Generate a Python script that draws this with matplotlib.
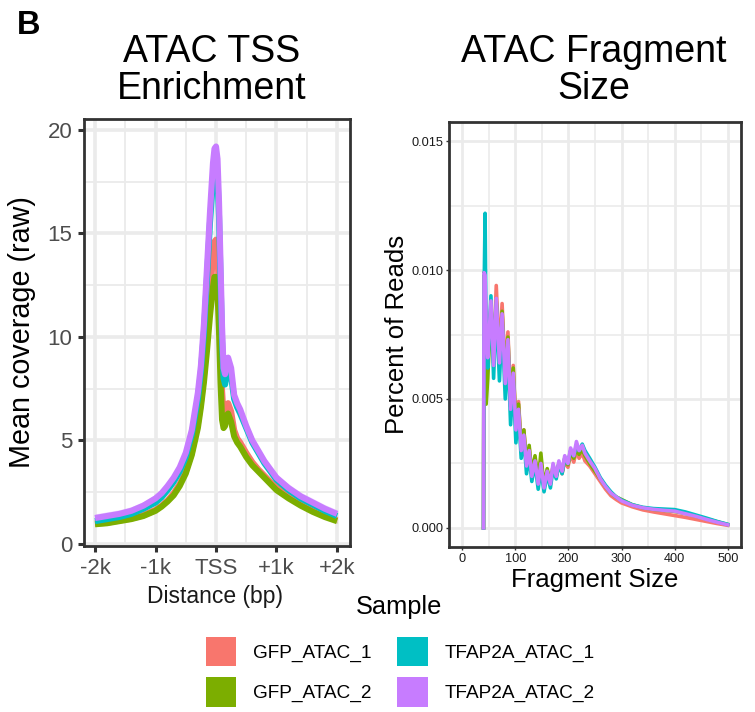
import numpy as np
import matplotlib
matplotlib.use("Agg")
import matplotlib.pyplot as plt
from matplotlib.patches import Patch
from matplotlib.ticker import MultipleLocator, FixedLocator

plt.rcParams['font.family'] = ['Liberation Sans', 'DejaVu Sans']

W, H = 755, 712

samples = ["GFP_ATAC_1", "GFP_ATAC_2", "TFAP2A_ATAC_1", "TFAP2A_ATAC_2"]
colors = ["#F8766D", "#7CAE00", "#00BFC4", "#C77CFF"]

# TSS enrichment profiles (mean raw coverage vs distance to TSS, bp)
tss_pos = [-2000, -1800, -1600, -1400, -1200, -1000, -900, -800, -700, -600,
           -500, -400, -300, -250, -200, -150, -100, -50, -25, 0, 25, 50, 75,
           100, 125, 150, 175, 200, 250, 300, 350, 400, 500, 600, 700, 800,
           900, 1000, 1200, 1400, 1600, 1800, 2000]
tss_gfp_1 = [1.0, 1.05, 1.15, 1.25, 1.4, 1.65, 1.85, 2.1, 2.45, 2.9, 3.5, 4.4,
             5.8, 6.8, 8.1, 9.9, 12.0, 13.9, 14.6, 14.7, 14.0, 12.2, 9.5, 7.4,
             6.2, 6.0, 6.6, 6.8, 6.4, 5.5, 5.1, 4.9, 4.4, 3.95, 3.6, 3.3, 3.0,
             2.75, 2.3, 1.95, 1.65, 1.4, 1.15]
tss_gfp_2 = [0.95, 1.0, 1.1, 1.2, 1.35, 1.6, 1.8, 2.05, 2.35, 2.8, 3.4, 4.3,
             5.6, 6.6, 7.8, 9.3, 11.0, 12.4, 12.9, 12.9, 12.2, 10.3, 7.8, 6.0,
             5.6, 5.7, 6.2, 6.3, 5.9, 5.2, 4.9, 4.7, 4.2, 3.8, 3.5, 3.2, 2.9,
             2.6, 2.2, 1.85, 1.55, 1.3, 1.1]
tss_tfap2a_1 = [1.1, 1.2, 1.3, 1.45, 1.7, 2.0, 2.25, 2.6, 3.0, 3.5, 4.2, 5.3,
                7.0, 8.3, 10.2, 12.8, 15.5, 17.6, 18.2, 18.3, 17.7, 15.8, 12.8,
                9.8, 8.0, 7.7, 8.2, 8.5, 8.1, 7.0, 6.6, 6.3, 5.6, 4.9, 4.4, 3.9,
                3.5, 3.1, 2.6, 2.2, 1.9, 1.6, 1.35]
tss_tfap2a_2 = [1.25, 1.35, 1.45, 1.6, 1.85, 2.2, 2.45, 2.8, 3.2, 3.7, 4.4, 5.5,
                7.3, 8.6, 10.6, 13.3, 16.0, 18.4, 19.1, 19.2, 18.6, 16.5, 13.5,
                10.5, 8.5, 8.2, 8.7, 9.0, 8.5, 7.2, 6.8, 6.5, 5.7, 5.0, 4.5, 4.0,
                3.6, 3.2, 2.7, 2.3, 2.0, 1.7, 1.45]
tss_spread = [0.15, 0.1, 0.12, 0.2]   # half-width of the confidence band

tss_ticks = [-2000, -1000, 0, 1000, 2000]
tss_ticklabels = ["-2k", "-1k", "TSS", "+1k", "+2k"]

# Fragment size distributions (fraction of reads, given in units of 1e-3)
frag_pos = [40, 41, 43, 44, 45, 48, 54, 59, 64, 70, 75, 81, 86, 91, 96, 101,
            106, 111, 116, 121, 126, 131, 137, 143, 148, 154, 160, 166, 171,
            177, 182, 188, 193, 199, 204, 210, 215, 220, 226, 231, 240, 250,
            260, 270, 280, 290, 300, 320, 340, 360, 380, 400, 420, 440, 460,
            480, 500]
frag_gfp_1 = [0, 9.5, 9.2, 8.5, 7.3, 6.8, 8.6, 6.6, 9.4, 6.6, 8.7, 5.9, 7.6,
              4.8, 6.3, 4.0, 4.9, 3.1, 3.8, 2.5, 3.1, 2.1, 2.7, 1.8, 2.6, 1.6,
              2.2, 1.75, 2.4, 2.0, 2.5, 2.1, 2.6, 2.35, 2.85, 2.55, 3.0, 2.7,
              2.9, 2.6, 2.4, 2.1, 1.8, 1.5, 1.25, 1.1, 0.97, 0.82, 0.7, 0.62,
              0.55, 0.48, 0.41, 0.33, 0.25, 0.17, 0.1]
frag_gfp_2 = [0, 9.9, 5.5, 5.0, 4.8, 5.8, 8.5, 6.4, 8.8, 6.5, 8.4, 5.8, 7.4,
              4.7, 6.2, 3.9, 4.8, 3.1, 3.8, 2.5, 3.2, 2.1, 2.8, 1.8, 2.9, 1.6,
              2.3, 1.7, 2.4, 2.0, 2.5, 2.15, 2.7, 2.45, 2.95, 2.7, 3.1, 2.85,
              3.05, 2.8, 2.5, 2.2, 1.9, 1.6, 1.35, 1.2, 1.1, 0.9, 0.78, 0.72,
              0.68, 0.64, 0.56, 0.46, 0.35, 0.24, 0.13]
frag_tfap2a_1 = [0, 9.0, 12.2, 9.5, 7.0, 6.2, 9.0, 5.8, 8.7, 5.7, 8.0, 5.0, 7.0,
                 4.0, 5.7, 3.3, 4.4, 2.7, 3.5, 2.1, 2.8, 1.8, 2.5, 1.5, 2.3,
                 1.4, 2.1, 1.55, 2.3, 1.9, 2.5, 2.1, 2.7, 2.5, 3.0, 2.8, 3.2,
                 3.0, 3.25, 3.0, 2.7, 2.35, 1.95, 1.65, 1.4, 1.2, 1.08, 0.9,
                 0.8, 0.75, 0.73, 0.71, 0.62, 0.5, 0.38, 0.25, 0.14]
frag_tfap2a_2 = [0, 9.9, 9.8, 9.0, 7.5, 6.6, 8.8, 6.3, 8.9, 6.4, 8.3, 5.6, 7.3,
                 4.6, 6.0, 3.8, 4.6, 3.0, 3.6, 2.4, 3.0, 2.0, 2.6, 1.7, 2.5,
                 1.55, 2.2, 1.7, 2.5, 2.0, 2.6, 2.2, 2.8, 2.5, 3.1, 2.8, 3.35,
                 3.0, 3.2, 2.9, 2.6, 2.3, 1.9, 1.6, 1.35, 1.2, 1.05, 0.88, 0.78,
                 0.72, 0.68, 0.65, 0.55, 0.45, 0.33, 0.22, 0.12]

frag_ticks = [0, 100, 200, 300, 400, 500]
frag_yticks = [0.0, 0.005, 0.010, 0.015]
frag_yticklabels = ["0.000", "0.005", "0.010", "0.015"]


def fx(px):
    return px / W


def fy(py):
    return 1 - py / H


def box(l, t, r, b):
    return [fx(l), fy(b), (r - l) / W, (b - t) / H]


def style_panel(ax, major_lw, minor_lw, border_lw):
    ax.set_facecolor("white")
    ax.grid(which="major", color="#EBEBEB", linewidth=major_lw, zorder=0)
    ax.grid(which="minor", color="#EBEBEB", linewidth=minor_lw, zorder=0)
    ax.set_axisbelow(True)
    for s in ax.spines.values():
        s.set_color("#333333")
        s.set_linewidth(border_lw)
        s.set_zorder(10)


fig = plt.figure(figsize=(W / 100, H / 100), dpi=100)

# ---- Left panel: TSS enrichment ----
ax1 = fig.add_axes(box(84, 119, 350, 546))
style_panel(ax1, 2.6, 1.3, 2.0)
tss_series = [tss_gfp_1, tss_gfp_2, tss_tfap2a_1, tss_tfap2a_2]
x = np.array(tss_pos)
for vals, c, sp in zip(tss_series, colors, tss_spread):
    v = np.array(vals)
    ax1.fill_between(x, v - sp, v + sp, color=c, alpha=0.3, linewidth=0, zorder=2)
for vals, c in zip(tss_series, colors):
    ax1.plot(x, vals, color=c, linewidth=4.4, solid_joinstyle="round",
             solid_capstyle="butt", zorder=3)
ax1.set_xlim(-2182, 2215)
ax1.set_ylim(-0.1, 20.53)
ax1.xaxis.set_major_locator(FixedLocator(tss_ticks))
ax1.set_xticklabels(tss_ticklabels)
ax1.xaxis.set_minor_locator(FixedLocator([-1500, -500, 500, 1500]))
ax1.yaxis.set_major_locator(MultipleLocator(5))
ax1.yaxis.set_minor_locator(MultipleLocator(2.5))
ax1.tick_params(which="major", length=4.5, width=2.2, color="#333333",
                labelsize=16, labelcolor="#4D4D4D", pad=4)
ax1.tick_params(which="minor", length=0)

# ---- Right panel: fragment size ----
ax2 = fig.add_axes(box(449, 122, 741, 547))
style_panel(ax2, 2.0, 1.2, 2.0)
frag_series = [frag_gfp_1, frag_gfp_2, frag_tfap2a_1, frag_tfap2a_2]
for vals, c in zip(frag_series, colors):
    ax2.plot(frag_pos, np.array(vals) / 1000.0, color=c, linewidth=2.6,
             solid_joinstyle="round", zorder=3)
ax2.set_xlim(-25, 525)
ax2.set_ylim(-0.00074, 0.01574)
ax2.xaxis.set_major_locator(FixedLocator(frag_ticks))
ax2.xaxis.set_minor_locator(MultipleLocator(50))
ax2.yaxis.set_major_locator(FixedLocator(frag_yticks))
ax2.set_yticklabels(frag_yticklabels)
ax2.yaxis.set_minor_locator(MultipleLocator(0.0025))
ax2.tick_params(which="major", length=2.2, width=1.0, color="#333333",
                labelsize=9.2, labelcolor="#1A1A1A", pad=2)
ax2.tick_params(which="minor", length=0)

# ---- Titles and axis titles ----
fig.text(fx(17), fy(34), "B", fontsize=23.5, fontweight="bold", ha="left",
         va="baseline")
for cx, lines in [(212, ["ATAC TSS", "Enrichment"]),
                  (594, ["ATAC Fragment", "Size"])]:
    for line, base in zip(lines, [62, 99]):
        fig.text(fx(cx), fy(base), line, fontsize=27, ha="center",
                 va="baseline")
fig.text(fx(22), fy(332), "Mean coverage (raw)", fontsize=20.7, rotation=90,
         ha="center", va="center")
fig.text(fx(215), fy(596), "Distance (bp)", fontsize=16.5, ha="center",
         va="center", color="#1A1A1A")
fig.text(fx(397), fy(334), "Percent of Reads", fontsize=18.5, rotation=90,
         ha="center", va="center")
fig.text(fx(595), fy(580), "Fragment Size", fontsize=18.5, ha="center",
         va="center")

# ---- Legend ----
fig.text(fx(399), fy(607), "Sample", fontsize=18.3, ha="center", va="center")
handles = [Patch(facecolor=c, edgecolor="none") for c in colors]
fig.legend(handles, samples, loc="upper left",
           bbox_to_anchor=(fx(206), fy(637)), ncol=2, frameon=False,
           fontsize=13.7, handlelength=1.6, handleheight=2.0,
           handletextpad=0.88, columnspacing=1.35, labelspacing=0.58,
           borderpad=0, borderaxespad=0)

fig.savefig("out.png", dpi=100, facecolor="white")
